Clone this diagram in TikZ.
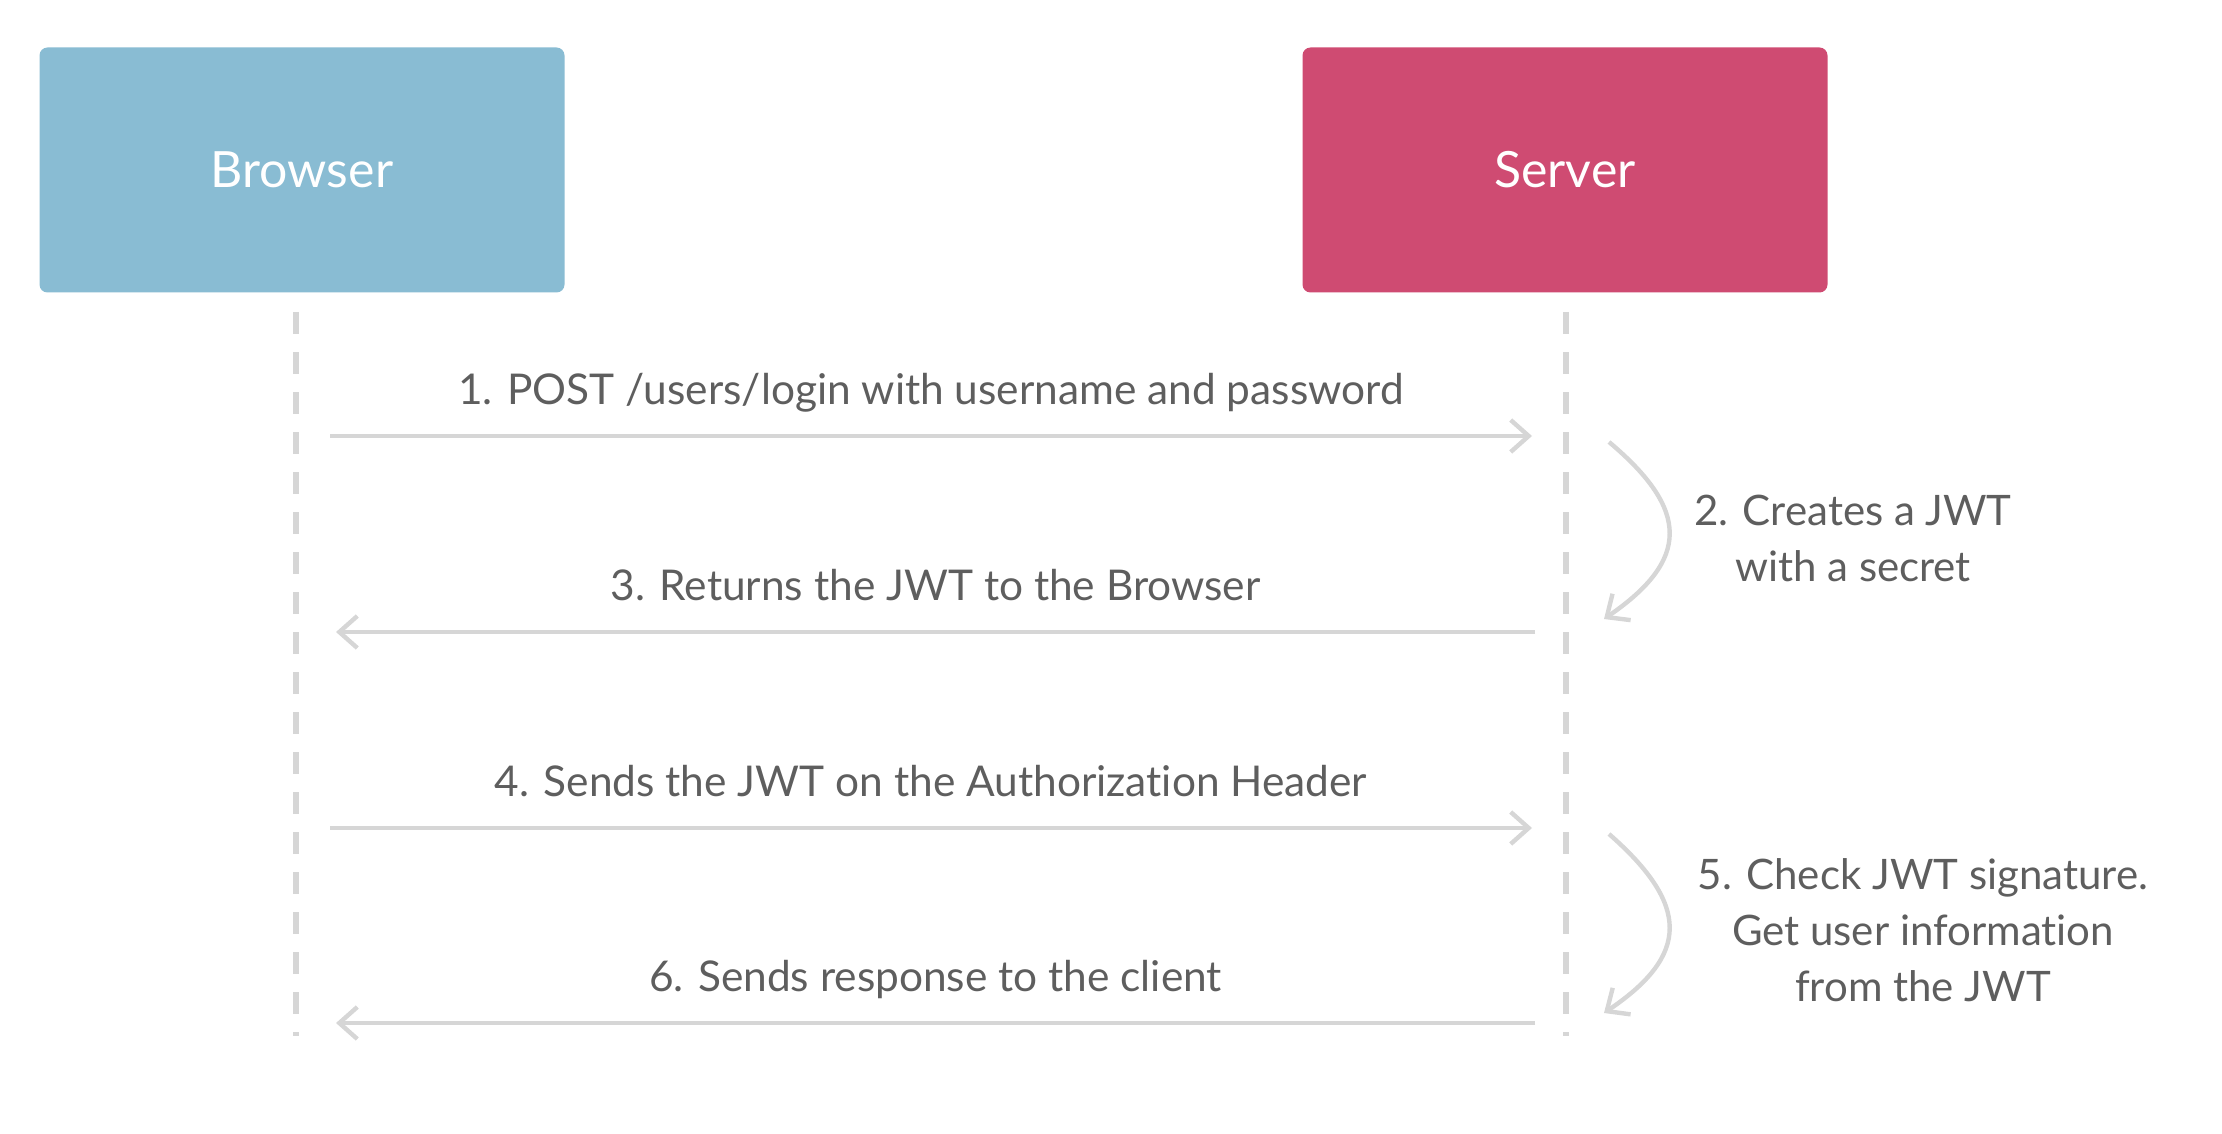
\documentclass[tikz,border=0pt]{standalone}
\usepackage{fontspec}
\setmainfont{Lato}[Ligatures={NoCommon,NoRare}]
\usetikzlibrary{arrows.meta,positioning}
\definecolor{BrowserBlue}{HTML}{89BCD3}
\definecolor{ServerRose}{HTML}{CF4B72}
\definecolor{LineGray}{HTML}{D6D6D6}
\definecolor{TextGray}{HTML}{5E5E5E}

\begin{document}
\begin{tikzpicture}[x=0.5pt,y=-0.5pt,
  actor/.style={rounded corners=4pt, minimum width=262.5pt, minimum height=122.5pt,
    text=white, font=\fontsize{25}{29}\selectfont},
  lifeline/.style={LineGray, line width=3pt, dash pattern=on 11pt off 9pt},
  msg/.style={LineGray, line width=2.2pt,
    -{Straight Barb[length=9pt,width=16pt,line width=2.2pt]}},
  msglabel/.style={TextGray, font=\fontsize{21.2}{25}\selectfont, text depth=4.5pt, above=7pt},
  note/.style={TextGray, font=\fontsize{21}{28}\selectfont, align=center}]
  \useasboundingbox (0,0) rectangle (2222,1134);
  % actors
  \node[actor, fill=BrowserBlue] (browser) at (302,170) {Browser};
  \node[actor, fill=ServerRose] (server) at (1565,170) {Server};
  % lifelines
  \coordinate (bTop) at (296,312);
  \coordinate (bEnd) at (296,1036);
  \coordinate (sTop) at (1566,312);
  \coordinate (sEnd) at (1566,1036);
  \draw[lifeline] (bTop) -- (bEnd);
  \draw[lifeline] (sTop) -- (sEnd);
  % message end points
  \coordinate (b1) at (330,436);  \coordinate (s1) at (1532,436);
  \coordinate (b3) at (336,632);  \coordinate (s3) at (1535,632);
  \coordinate (b4) at (330,828);  \coordinate (s4) at (1532,828);
  \coordinate (b6) at (336,1023); \coordinate (s6) at (1535,1023);
  % messages
  \draw[msg] (b1) -- node[msglabel] (m1) {1. POST /users/login with username and password} (s1);
  \draw[msg] (s3) -- node[msglabel] (m3) {3. Returns the JWT to the Browser} (b3);
  \draw[msg] (b4) -- node[msglabel] (m4) {4. Sends the JWT on the Authorization Header} (s4);
  \draw[msg] (s6) -- node[msglabel] (m6) {6. Sends response to the client} (b6);
  % server-side steps
  \coordinate (c2a) at (1609,442); \coordinate (c2b) at (1604,619);
  \coordinate (c5a) at (1609,834); \coordinate (c5b) at (1604,1013);
  \draw[msg] (c2a) .. controls (1690,510) and (1690,560) .. (c2b);
  \draw[msg] (c5a) .. controls (1690,905) and (1690,955) .. (c5b);
  \node[note] (n2) at (1853,538) {2. Creates a JWT\\with a secret};
  \node[note] (n5) at (1923,930) {5. Check JWT signature.\\Get user information\\from the JWT};
\end{tikzpicture}
\end{document}
